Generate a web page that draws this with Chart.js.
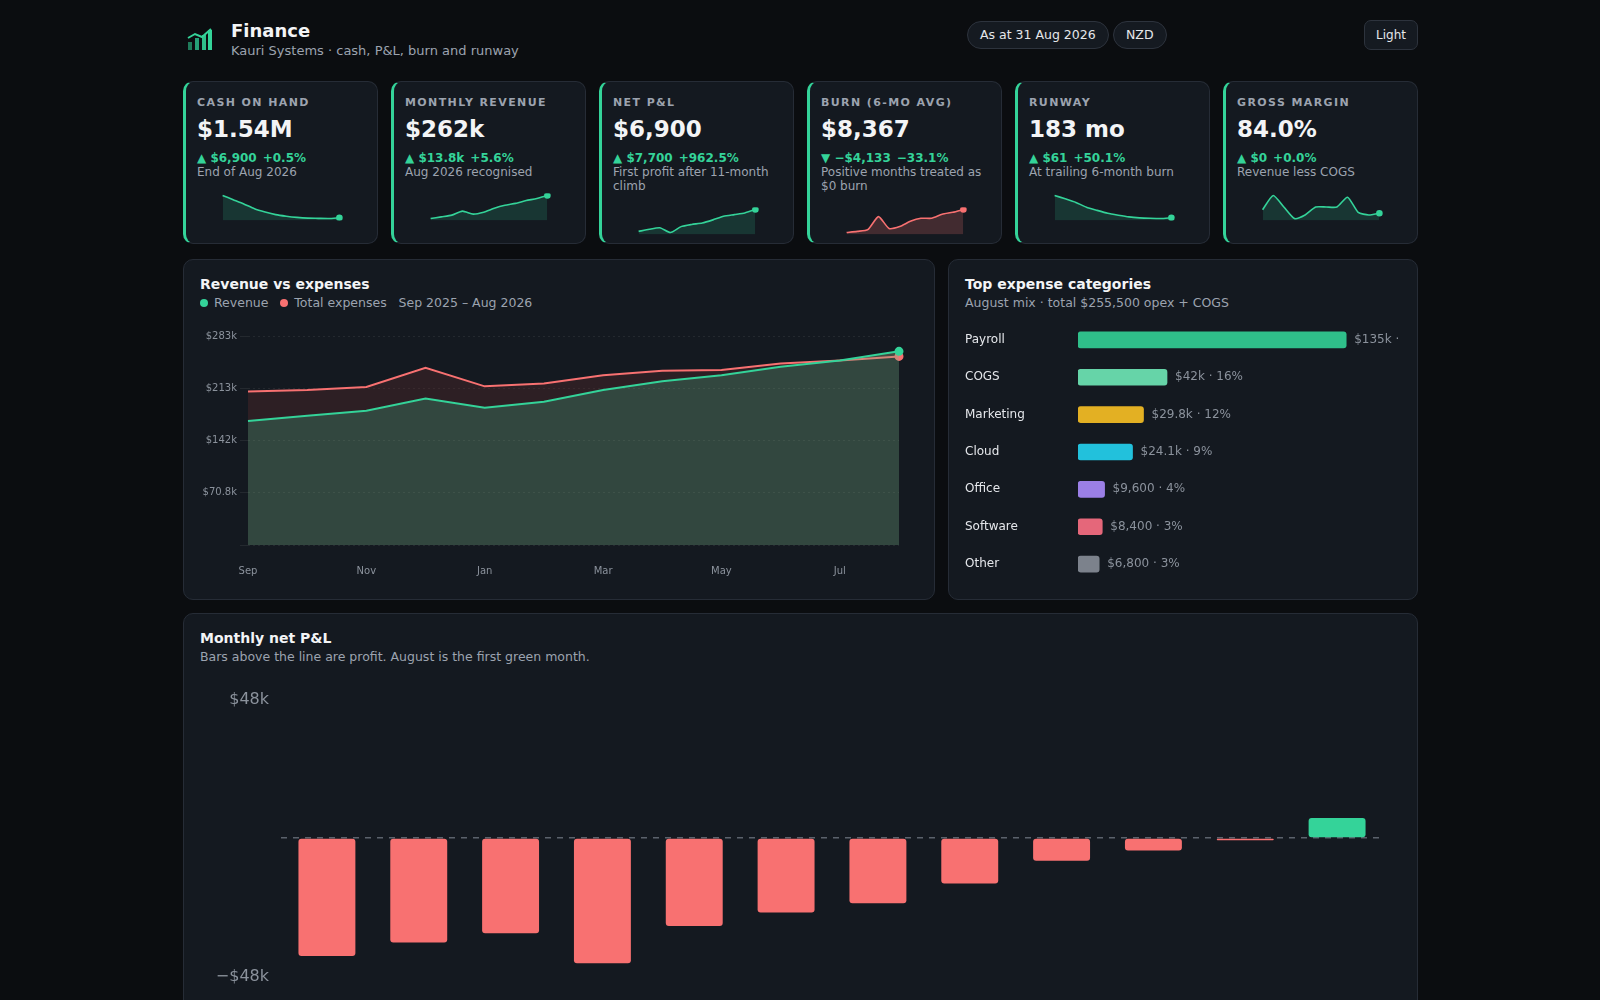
<!DOCTYPE html>
<html>
<head>
<meta charset="utf-8">
<script src="https://cdn.jsdelivr.net/npm/chart.js@4/dist/chart.umd.min.js"></script>
<style>
  * { box-sizing: border-box; }
  body { margin: 0; background: #0b0d10; font-family: "DejaVu Sans", sans-serif; color: #e5e7eb; }
  .wrap { width: 1235px; margin-left: 183px; position: relative; }
  .header { height: 81px; position: relative; }
  .logo { position: absolute; left: 4px; top: 28px; }
  .title { position: absolute; left: 48px; top: 20px; font-size: 18px; font-weight: bold; color: #f3f4f6; }
  .sub { position: absolute; left: 48px; top: 43px; font-size: 13px; color: #9ca3af; }
  .pill { position: absolute; top: 21px; height: 28px; border: 1px solid #2d333d; border-radius: 14px; background: #151a21; font-size: 12.5px; line-height: 26px; padding: 0 12px; color: #e5e7eb; }
  .btn { position: absolute; right: 0; top: 20px; height: 30px; border: 1px solid #2d333d; border-radius: 7px; background: #151a21; font-size: 12px; line-height: 28px; padding: 0 11px; }
  .kpis { display: flex; gap: 13px; }
  .kpi { width: 195px; height: 163px; background: #141920; border: 1px solid #262c36; border-left: 3px solid #34d399; border-radius: 10px; padding: 14px 0 0 11px; position: relative; }
  .kl { font-size: 11px; font-weight: bold; letter-spacing: 1.4px; color: #9ca3af; }
  .kv { font-size: 23px; font-weight: bold; color: #f3f4f6; margin-top: 7px; }
  .kd { font-size: 12px; font-weight: bold; color: #34d399; margin-top: 9px; }
  .kd span { margin-left: 6px; }
  .kx { font-size: 12px; color: #9ca3af; line-height: 14px; padding-right: 10px; }
  .spark { width: 128px; height: 38px; margin-left: 20px; margin-top: 9px; }
  .row2 { display: flex; gap: 13px; margin-top: 15px; }
  .card { background: #141920; border: 1px solid #262c36; border-radius: 10px; position: relative; }
  .ct { font-size: 14px; font-weight: bold; color: #f3f4f6; position: absolute; left: 16px; top: 16px; }
  .cs { font-size: 12.5px; color: #9ca3af; position: absolute; left: 16px; top: 35px; }
  .dot { display: inline-block; width: 8px; height: 8px; border-radius: 4px; margin-right: 6px; }
</style>
</head>
<body>
<div class="wrap">
  <div class="header">
    <svg class="logo" width="26" height="24" viewBox="0 0 26 24">
      <rect x="1" y="14" width="4" height="8" fill="#1f7a5a"/>
      <rect x="8" y="10" width="4" height="12" fill="#26a078"/>
      <rect x="15" y="7" width="4" height="15" fill="#2fbf8a"/>
      <rect x="21" y="2" width="4" height="20" fill="#34d399"/>
      <polyline points="1,10 8,6 15,9 24,1" fill="none" stroke="#34d399" stroke-width="2"/>
    </svg>
    <div class="title">Finance</div>
    <div class="sub">Kauri Systems · cash, P&amp;L, burn and runway</div>
    <div class="pill" style="left:784px">As at 31 Aug 2026</div>
    <div class="pill" style="left:930px">NZD</div>
    <div class="btn">Light</div>
  </div>
  <div class="kpis" id="kpis"></div>
  <div class="row2">
    <div class="card" style="width:752px;height:341px">
      <div class="ct">Revenue vs expenses</div>
      <div class="cs"><span class="dot" style="background:#34d399"></span>Revenue &nbsp; <span class="dot" style="background:#f87171"></span>Total expenses &nbsp; Sep 2025 – Aug 2026</div>
      <div style="position:absolute;left:8px;top:60px;width:719px;height:269px"><canvas id="rev"></canvas></div>
    </div>
    <div class="card" style="width:470px;height:341px;overflow:hidden">
      <div class="ct">Top expense categories</div>
      <div class="cs">August mix · total $255,500 opex + COGS</div>
      <div style="position:absolute;left:16px;top:44px;width:439px;height:296px"><canvas id="exp"></canvas></div>
    </div>
  </div>
  <div class="card" style="margin-top:13px;height:420px">
    <div class="ct">Monthly net P&amp;L</div>
    <div class="cs">Bars above the line are profit. August is the first green month.</div>
    <div style="position:absolute;left:8px;top:64px;width:1219px;height:320px"><canvas id="net"></canvas></div>
  </div>
</div>
<script>
const months = ['Sep', 'Oct', 'Nov', 'Dec', 'Jan', 'Feb', 'Mar', 'Apr', 'May', 'Jun', 'Jul', 'Aug'];
const revenue = [168000, 175000, 182000, 198500, 186000, 194000, 210000, 222000, 230000, 241500, 250000, 262400];
const expenses = [208000, 210000, 214000, 240000, 215000, 219000, 230000, 236000, 237000, 246000, 250000, 255500];
const netPL = [-40900, -36200, -33000, -43400, -30500, -25800, -22600, -15800, -7900, -4300, -800, 6900];
const revTickLabels = ['', '$70.8k', '$142k', '$213k', '$283k'];
const netTickLabels = ['−$48k', '', '$48k'];

const cashSpark = [1790, 1750, 1710, 1665, 1634, 1609, 1594, 1583, 1576, 1574, 1572, 1580];
const burnSpark = [8, 13, 20, 75, 25, 33, 55, 68, 68, 85, 93, 105];
const runwaySpark = [107, 93, 78, 58, 45, 33, 25, 18, 14, 12, 11, 14];
const marginSpark = [84.6, 86.2, 84.9, 83.6, 84.0, 84.9, 84.9, 84.9, 86.0, 84.3, 84.0, 84.2];

const expCats = ['Payroll', 'COGS', 'Marketing', 'Cloud', 'Office', 'Software', 'Other'];
const expValues = [135000, 42000, 29800, 24100, 9600, 8400, 6800];
const expLabels = ['$135k · 53%', '$42k · 16%', '$29.8k · 12%', '$24.1k · 9%', '$9,600 · 4%', '$8,400 · 3%', '$6,800 · 3%'];
const expColors = ['#2fbf8a', '#66d4a8', '#e3b023', '#22c1dc', '#9b7fe6', '#e5677a', '#7c828c'];

const kpis = [
  ['CASH ON HAND', '$1.54M', '▲ $6,900', '+0.5%', 'End of Aug 2026', cashSpark, '#34d399'],
  ['MONTHLY REVENUE', '$262k', '▲ $13.8k', '+5.6%', 'Aug 2026 recognised', revenue, '#34d399'],
  ['NET P&L', '$6,900', '▲ $7,700', '+962.5%', 'First profit after 11-month climb', netPL, '#34d399'],
  ['BURN (6-MO AVG)', '$8,367', '▼ −$4,133', '−33.1%', 'Positive months treated as $0 burn', burnSpark, '#f87171'],
  ['RUNWAY', '183 mo', '▲ $61', '+50.1%', 'At trailing 6-month burn', runwaySpark, '#34d399'],
  ['GROSS MARGIN', '84.0%', '▲ $0', '+0.0%', 'Revenue less COGS', marginSpark, '#34d399']
];

const kpiBox = document.getElementById('kpis');
kpis.forEach((k, i) => {
  const d = document.createElement('div');
  d.className = 'kpi';
  d.innerHTML = '<div class="kl">' + k[0].replace('&', '&amp;') + '</div><div class="kv">' + k[1] +
    '</div><div class="kd">' + k[2] + '<span>' + k[3] + '</span></div><div class="kx">' + k[4] +
    '</div><div class="spark"><canvas id="sp' + i + '"></canvas></div>';
  kpiBox.appendChild(d);
  const red = k[6] === '#f87171';
  const lo = Math.min(...k[5]), hi = Math.max(...k[5]), pad = (hi - lo) * 0.08;
  new Chart(document.getElementById('sp' + i), {
    type: 'line',
    data: {
      labels: months,
      datasets: [{
        data: k[5], borderColor: k[6], borderWidth: 1.6, tension: 0.2, fill: 'start',
        backgroundColor: red ? 'rgba(248,113,113,0.2)' : 'rgba(52,211,153,0.16)',
        pointRadius: k[5].map((v, j) => j === k[5].length - 1 ? 2.5 : 0), pointBackgroundColor: k[6]
      }]
    },
    options: {
      responsive: true, maintainAspectRatio: false, animation: false,
      plugins: { legend: { display: false }, tooltip: { enabled: false } },
      layout: { padding: 2 },
      scales: { x: { display: false }, y: { display: false, min: lo - pad, max: hi + pad } }
    }
  });
});

const tickColor = '#8b929c';

new Chart(document.getElementById('rev'), {
  type: 'line',
  data: {
    labels: months,
    datasets: [
      { label: 'Revenue', data: revenue, borderColor: '#34d399', borderWidth: 2, fill: 'origin',
        backgroundColor: 'rgba(123,178,135,0.3)', tension: 0,
        pointRadius: revenue.map((v, j) => j === 11 ? 3.5 : 0), pointBackgroundColor: '#34d399' },
      { label: 'Total expenses', data: expenses, borderColor: '#f87171', borderWidth: 2, fill: '-1',
        backgroundColor: 'rgba(107,48,45,0.3)', tension: 0,
        pointRadius: expenses.map((v, j) => j === 11 ? 3.5 : 0), pointBackgroundColor: '#f87171' }
    ]
  },
  options: {
    responsive: true, maintainAspectRatio: false, animation: false,
    plugins: { legend: { display: false }, tooltip: { enabled: false } },
    layout: { padding: { top: 16, right: 8 } },
    scales: {
      x: {
        grid: { display: false }, border: { display: false },
        ticks: { color: tickColor, font: { size: 10, family: 'DejaVu Sans' }, autoSkip: false, maxRotation: 0, padding: 12,
          callback: (v, i) => i % 2 === 0 ? months[i] : '' }
      },
      y: {
        min: 0, max: 283200, ticks: { stepSize: 70800, color: tickColor, font: { size: 10, family: 'DejaVu Sans' },
          callback: (v, i) => revTickLabels[i] },
        grid: { color: 'rgba(255,255,255,0.07)' }, border: { display: false, dash: [2, 3] },
        afterFit: s => { s.width = 56; }
      }
    }
  }
});

const valueLabels = {
  id: 'valueLabels',
  afterDatasetsDraw(chart) {
    const ctx = chart.ctx;
    const meta = chart.getDatasetMeta(0);
    ctx.save();
    ctx.font = '12px "DejaVu Sans"';
    ctx.fillStyle = '#8b929c';
    ctx.textBaseline = 'middle';
    meta.data.forEach((bar, i) => ctx.fillText(expLabels[i], bar.x + 8, bar.y));
    ctx.restore();
  }
};

new Chart(document.getElementById('exp'), {
  type: 'bar',
  data: {
    labels: expCats,
    datasets: [{ data: expValues, base: -4200, backgroundColor: expColors, borderRadius: 3, borderSkipped: false, barThickness: 16 }]
  },
  options: {
    indexAxis: 'y', responsive: true, maintainAspectRatio: false, animation: false,
    plugins: { legend: { display: false }, tooltip: { enabled: false } },
    scales: {
      x: { display: false, min: -4200, max: 165000 },
      y: {
        grid: { display: false }, border: { display: false },
        ticks: { color: '#e5e7eb', font: { size: 12, family: 'DejaVu Sans' }, crossAlign: 'far', padding: 10 },
        afterFit: s => { s.width = 113; }
      }
    }
  },
  plugins: [valueLabels]
});

new Chart(document.getElementById('net'), {
  type: 'bar',
  data: {
    labels: months,
    datasets: [{
      data: netPL, borderRadius: 3, borderSkipped: false,
      backgroundColor: netPL.map(v => v >= 0 ? '#34d399' : '#f87171'),
      barPercentage: 0.62, categoryPercentage: 1
    }]
  },
  options: {
    responsive: true, maintainAspectRatio: false, animation: false,
    plugins: { legend: { display: false }, tooltip: { enabled: false } },
    layout: { padding: { top: 17, right: 28, bottom: 18 } },
    scales: {
      x: { display: false, offset: true },
      y: {
        min: -48000, max: 48000,
        ticks: { stepSize: 48000, color: tickColor, font: { size: 16, family: 'DejaVu Sans' }, padding: 12,
          callback: (v, i) => netTickLabels[i] },
        grid: { color: c => c.tick.value === 0 ? '#5b626c' : 'transparent', lineWidth: 1.5, drawTicks: false },
        border: { display: false, dash: [6, 6] },
        afterFit: s => { s.width = 89; }
      }
    }
  }
});
</script>
</body>
</html>
